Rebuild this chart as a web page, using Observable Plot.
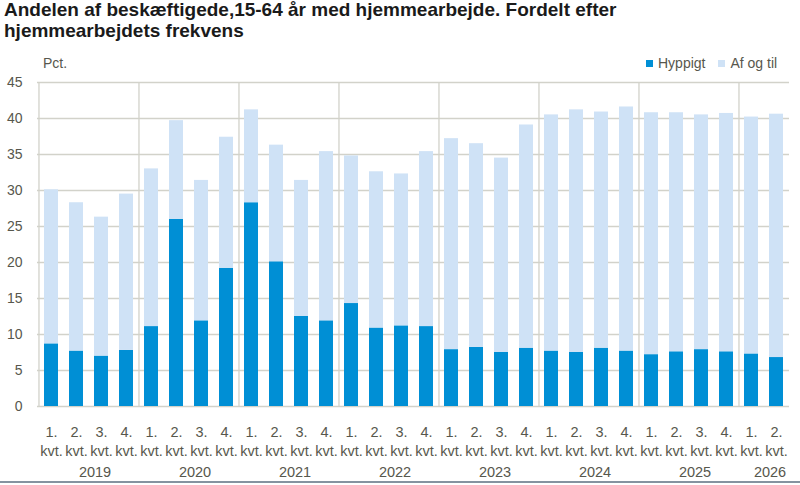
<!DOCTYPE html>
<html>
<head>
<meta charset="utf-8">
<script src="https://cdn.jsdelivr.net/npm/d3@7"></script>
<script src="https://cdn.jsdelivr.net/npm/@observablehq/plot@0.6"></script>
<style>
  html, body { margin: 0; padding: 0; background: #fff; }
  body { width: 800px; height: 485px; position: relative; overflow: hidden; font-family: "Liberation Sans", Arial, sans-serif; }
  #title { position: absolute; left: 4px; top: -1px; font-weight: bold; font-size: 19px; line-height: 21px; color: #1a1a1a; white-space: nowrap; }
  #chart { position: absolute; left: 0; top: 44px; }
  #pct { position: absolute; left: 43px; top: 55px; font-size: 14px; line-height: 16px; color: #57574d; }
  #legend { position: absolute; left: 646px; top: 55px; height: 16px; display: flex; align-items: center; font-size: 14px; color: #57574d; }
  #legend .sw { width: 7px; height: 7px; margin-right: 5px; }
  #legend .item { display: flex; align-items: center; margin-right: 13px; }
  #bottomline { position: absolute; left: 0; top: 481px; width: 800px; height: 2px; background: #8593a0; }
</style>
</head>
<body>
<div id="title">Andelen af beskæftigede,15-64 år med hjemmearbejde. Fordelt efter<br>hjemmearbejdets frekvens</div>
<div id="pct">Pct.</div>
<div id="legend"></div>
<div id="chart"></div>
<div id="bottomline"></div>
<script>
const years = [2019,2019,2019,2019, 2020,2020,2020,2020, 2021,2021,2021,2021, 2022,2022,2022,2022, 2023,2023,2023,2023, 2024,2024,2024,2024, 2025,2025,2025,2025, 2026,2026];
const quarters = [1,2,3,4, 1,2,3,4, 1,2,3,4, 1,2,3,4, 1,2,3,4, 1,2,3,4, 1,2,3,4, 1,2];
const hyppigt = [8.7,7.7,7.0,7.8, 11.1,26.0,11.9,19.2, 28.3,20.1,12.5,11.9, 14.3,10.9,11.2,11.1, 7.9,8.2,7.5,8.1, 7.7,7.5,8.1,7.7, 7.2,7.6,7.9,7.6, 7.3,6.8];
const afOgTil = [21.4,20.6,19.3,21.7, 21.9,13.7,19.5,18.2, 12.9,16.2,18.9,23.5, 20.5,21.7,21.1,24.3, 29.3,28.3,27.0,31.0, 32.8,33.7,32.8,33.9, 33.6,33.2,32.6,33.1, 32.9,33.8];
const seriesNames = ["Hyppigt", "Af og til"];
const seriesColors = ["#008fd5", "#cfe2f6"];
const yTicks = [0,5,10,15,20,25,30,35,40,45];

const keys = years.map((y, i) => `${y}-${quarters[i]}`);
const rows = [];
keys.forEach((k, i) => {
  rows.push({key: k, serie: seriesNames[0], value: hyppigt[i]});
  rows.push({key: k, serie: seriesNames[1], value: afOgTil[i]});
});
const yearList = Array.from(new Set(years));
const yearStarts = yearList.map(y => keys[years.indexOf(y)]);
// label anchor: the quarter just left of the year's middle
const yearLabelKeys = yearList.map(y => {
  const idx = years.map((v, i) => v === y ? i : -1).filter(i => i >= 0);
  return {year: y, key: keys[idx[Math.floor((idx.length - 1) / 2)]]};
});

const W = 800, H = 441, ML = 37, MR = 11;
const step = (W - ML - MR) / keys.length;

const chart = Plot.plot({
  width: W,
  height: H,
  marginLeft: ML,
  marginRight: MR,
  marginTop: 38,
  marginBottom: 79,
  style: {fontFamily: "'Liberation Sans', Arial, sans-serif", color: "#57574d", background: "transparent", overflow: "visible"},
  x: {domain: keys, type: "band", paddingInner: 0.44, paddingOuter: 0.22, label: null},
  y: {domain: [0, 45], label: null},
  color: {domain: seriesNames, range: seriesColors},
  marks: [
    Plot.gridY(yTicks, {stroke: "#d2d2ca", strokeOpacity: 1, strokeWidth: 1.3}),
    Plot.ruleX(yearStarts, {x: d => d, dx: -step / 2, y1: 0, y2: 45, stroke: "#d2d2ca", strokeWidth: 1.3}),
    Plot.barY(rows, {x: "key", y: "value", fill: "serie"}),
    Plot.axisY({ticks: yTicks, tickSize: 0, tickPadding: 15, fontSize: 14, label: null}),
    Plot.axisX({tickSize: 0, tickPadding: 17, fontSize: 14.5, lineHeight: 1.33, label: null,
      tickFormat: k => `${quarters[keys.indexOf(k)]}.\nkvt.`}),
    Plot.text(yearLabelKeys, {x: "key", text: d => String(d.year), frameAnchor: "bottom", dy: 60, dx: step / 2 + 6, lineAnchor: "top", fontSize: 14.5})
  ]
});
document.getElementById("chart").appendChild(chart);

const legend = document.getElementById("legend");
seriesNames.forEach((n, i) => {
  const it = document.createElement("div");
  it.className = "item";
  const sw = document.createElement("div");
  sw.className = "sw";
  sw.style.background = seriesColors[i];
  const t = document.createElement("span");
  t.textContent = n;
  it.appendChild(sw); it.appendChild(t);
  legend.appendChild(it);
});
</script>
</body>
</html>
